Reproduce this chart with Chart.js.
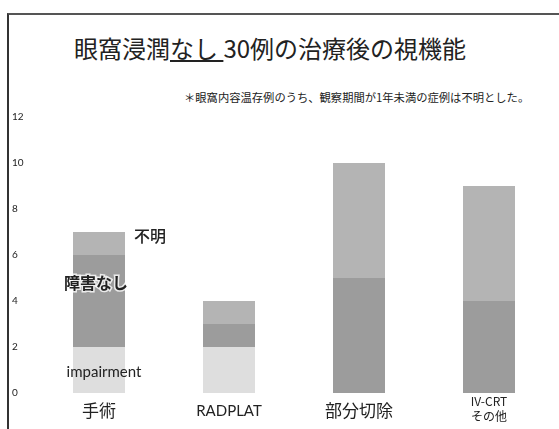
<!DOCTYPE html>
<html>
<head>
<meta charset="utf-8">
<script src="https://cdn.jsdelivr.net/npm/chart.js@4/dist/chart.umd.min.js"></script>
<style>
body { margin: 0; background: #fff; }
#wrap { position: relative; width: 559px; height: 429px; overflow: hidden; }
#frame { position: absolute; left: 7px; top: 13px; width: 560px; height: 430px; border-left: 2px solid #333; border-top: 2px solid #555; }
#title { position: absolute; left: 74px; top: 36px; font-family: "Noto Sans CJK JP", sans-serif; font-size: 24px; line-height: 24px; color: #222; white-space: nowrap; }
#note { position: absolute; left: 184px; top: 90px; font-family: "Noto Sans CJK JP", sans-serif; font-size: 11.3px; line-height: 14px; color: #222; white-space: nowrap; }
canvas { position: absolute; left: 0; top: 0; }
</style>
</head>
<body>
<div id="wrap">
  <div id="frame"></div>
  <div id="title">眼窩浸潤<u>なし&nbsp;</u>30例の治療後の視機能</div>
  <div id="note">＊眼窩内容温存例のうち、観察期間が1年未満の症例は不明とした。</div>
  <canvas id="vision_chart" width="559" height="429"></canvas>
</div>
<script>
const treatment_labels = ["手術", "RADPLAT", "部分切除", ["IV-CRT", "その他"]];
const impairment_counts = [2, 2, 0, 0];
const no_impairment_counts = [4, 1, 5, 4];
const unknown_counts = [1, 1, 5, 5];
const y_ticks = [0, 2, 4, 6, 8, 10, 12];

const vision_canvas = document.getElementById("vision_chart");
const vision_context = vision_canvas.getContext("2d");

// series names written beside the first bar, as in the slide
const series_name_plugin = {
    id: "series_names",
    afterDatasetsDraw(chart) {
        let ctx = chart.ctx;
        let x_scale = chart.scales.x;
        let y_scale = chart.scales.y;
        let bar_x = x_scale.getPixelForValue(0);
        ctx.save();
        ctx.textBaseline = "middle";
        ctx.textAlign = "center";

        ctx.font = "15px Lato, 'Noto Sans', sans-serif";
        ctx.fillStyle = "#222";
        ctx.fillText("impairment", bar_x + 5, y_scale.getPixelForValue(impairment_counts[0] / 2) + 2);

        let mid_value = impairment_counts[0] + no_impairment_counts[0] * 0.7;
        ctx.font = "bold 16px 'Noto Sans CJK JP', sans-serif";
        ctx.lineWidth = 3;
        ctx.strokeStyle = "rgba(255,255,255,0.8)";
        ctx.strokeText("障害なし", bar_x - 3, y_scale.getPixelForValue(mid_value));
        ctx.fillStyle = "#222";
        ctx.fillText("障害なし", bar_x - 3, y_scale.getPixelForValue(mid_value));

        let top_value = impairment_counts[0] + no_impairment_counts[0] + unknown_counts[0];
        ctx.font = "500 16px 'Noto Sans CJK JP', sans-serif";
        ctx.fillText("不明", bar_x + 51, y_scale.getPixelForValue(top_value) + 4);
        ctx.restore();
    }
};

var vision_data = {
    labels: treatment_labels,
    datasets: [{
        label: "impairment",
        data: impairment_counts,
        backgroundColor: "#dedede"
    }, {
        label: "障害なし",
        data: no_impairment_counts,
        backgroundColor: "#9c9c9c"
    }, {
        label: "不明",
        data: unknown_counts,
        backgroundColor: "#b4b4b4"
    }]
};

var vision_options = {
    responsive: false,
    animation: false,
    layout: {
        padding: { top: 117, left: 12, right: 5, bottom: 0 }
    },
    plugins: {
        legend: { display: false },
        tooltip: { enabled: false }
    },
    datasets: {
        bar: {
            categoryPercentage: 0.8,
            barPercentage: 0.5,
            borderWidth: 0
        }
    },
    scales: {
        x: {
            stacked: true,
            border: { display: false },
            grid: { display: false, drawTicks: false },
            afterFit: function(scale) {
                scale.height = 36;
            },
            ticks: {
                padding: 1,
                color: "#222",
                font: function(context) {
                    if (context.index === 3) {
                        return { size: 12, family: "'Noto Sans CJK JP', sans-serif", lineHeight: 1.25 };
                    }
                    if (context.index === 1) {
                        return { size: 15, family: "Lato, 'Noto Sans', sans-serif", lineHeight: 2.27 };
                    }
                    return { size: 17, family: "'Noto Sans CJK JP', sans-serif", lineHeight: 2.0 };
                }
            }
        },
        y: {
            stacked: true,
            min: 0,
            max: 12,
            border: { display: false },
            grid: { display: false, drawTicks: false },
            afterFit: function(scale) {
                scale.width = 22;
            },
            afterBuildTicks: function(scale) {
                scale.ticks = y_ticks.map(v => ({ value: v }));
            },
            ticks: {
                crossAlign: "far",
                padding: 0,
                color: "#222",
                font: { size: 10, family: "Lato, 'Noto Sans', sans-serif" }
            }
        }
    }
};

new Chart(vision_context, {
    type: "bar",
    data: vision_data,
    options: vision_options,
    plugins: [series_name_plugin]
});
</script>
</body>
</html>
